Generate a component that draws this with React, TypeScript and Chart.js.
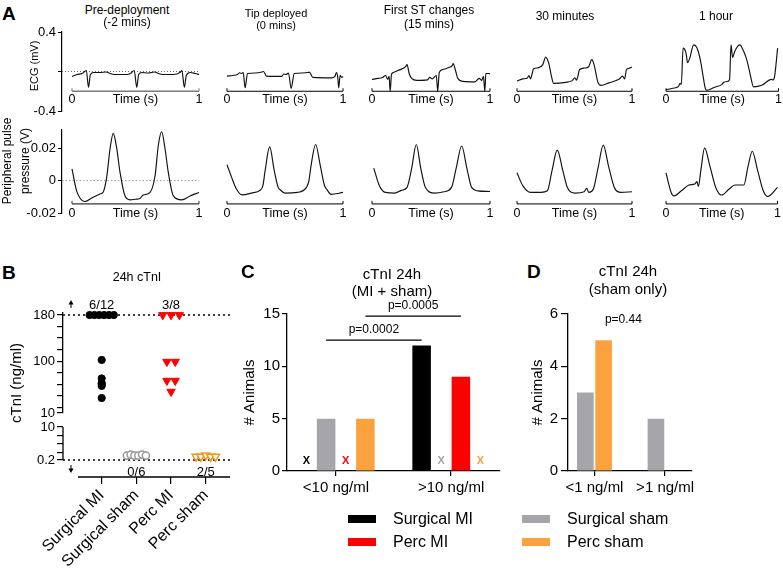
import React, { useEffect, useRef } from 'react';
import { Chart, registerables } from 'chart.js';

Chart.register(...registerables);

const FONT = '"Liberation Sans", Arial, Helvetica, sans-serif';
Chart.defaults.font.family = FONT;
Chart.defaults.color = '#000';
Chart.defaults.plugins.legend.display = false;
Chart.defaults.plugins.tooltip.enabled = false;

// ---------------- Panel A data (time in s, ECG in mV, pulse in V) ----------------
const ECG_PRE_T = [0, 0.04, 0.08, 0.10, 0.113, 0.13, 0.145, 0.17, 0.22, 0.27, 0.30, 0.33, 0.43, 0.46, 0.49, 0.51, 0.525, 0.55, 0.60, 0.65, 0.68, 0.71, 0.80, 0.85, 0.865, 0.885, 0.90, 0.93, 0.97, 1.0];
const ECG_PRE_V = [-0.05, -0.03, -0.02, 0.0, 0.01, -0.16, -0.03, -0.01, -0.01, -0.005, -0.02, -0.03, -0.03, -0.02, 0.01, -0.16, -0.03, -0.01, -0.015, -0.005, -0.02, -0.03, -0.03, -0.01, 0.01, -0.16, -0.04, -0.01, -0.02, -0.03];

const ECG_TIP_T = [0, 0.05, 0.09, 0.11, 0.125, 0.14, 0.156, 0.177, 0.25, 0.30, 0.315, 0.34, 0.47, 0.49, 0.51, 0.53, 0.553, 0.58, 0.65, 0.70, 0.71, 0.74, 0.90, 0.93, 0.944, 0.955, 0.963, 0.975, 0.99, 1.0];
const ECG_TIP_V = [-0.047, -0.04, -0.03, -0.013, -0.02, -0.01, -0.165, -0.02, -0.015, -0.005, 0.0, -0.047, -0.05, -0.025, -0.03, -0.015, -0.17, -0.02, -0.015, -0.01, -0.007, -0.06, -0.065, -0.05, -0.01, -0.06, -0.165, -0.04, -0.06, -0.05];

const ECG_ST_T = [0, 0.05, 0.09, 0.115, 0.133, 0.145, 0.154, 0.165, 0.18, 0.22, 0.26, 0.285, 0.297, 0.315, 0.336, 0.38, 0.47, 0.49, 0.51, 0.545, 0.557, 0.57, 0.60, 0.65, 0.68, 0.6875, 0.71, 0.727, 0.77, 0.87, 0.909, 0.93, 0.945, 0.956, 0.965, 0.99, 1.0];
const ECG_ST_V = [-0.08, -0.07, -0.06, -0.04, -0.08, -0.05, -0.2, -0.03, -0.01, 0.01, 0.03, 0.05, 0.07, -0.02, -0.07, -0.09, -0.085, -0.06, -0.075, -0.04, -0.2, -0.01, 0.02, 0.04, 0.06, 0.08, 0.0, -0.07, -0.10, -0.105, -0.07, -0.09, -0.05, -0.2, -0.02, -0.02, -0.025];

const ECG_30_T = [0, 0.05, 0.09, 0.104, 0.117, 0.13, 0.144, 0.184, 0.224, 0.25, 0.265, 0.277, 0.30, 0.317, 0.424, 0.477, 0.504, 0.517, 0.53, 0.544, 0.59, 0.624, 0.65, 0.67, 0.704, 0.73, 0.80, 0.89, 0.917, 0.936, 0.952, 0.97, 1.0];
const ECG_30_V = [-0.097, -0.075, -0.065, -0.04, -0.075, -0.03, 0.027, 0.037, 0.07, 0.147, 0.12, 0.08, -0.05, -0.12, -0.11, -0.095, -0.063, -0.087, -0.047, 0.02, 0.035, 0.05, 0.12, 0.07, -0.11, -0.14, -0.115, -0.075, -0.047, -0.075, 0.02, 0.03, 0.045];

const ECG_1H_T = [0, 0.06, 0.112, 0.125, 0.136, 0.152, 0.178, 0.192, 0.21, 0.246, 0.27, 0.29, 0.31, 0.33, 0.352, 0.366, 0.43, 0.498, 0.512, 0.55, 0.565, 0.578, 0.592, 0.61, 0.64, 0.658, 0.68, 0.712, 0.735, 0.752, 0.778, 0.85, 0.938, 0.952, 0.965, 0.992];
const ECG_1H_V = [-0.185, -0.17, -0.15, -0.12, -0.13, 0.237, 0.187, 0.09, 0.13, 0.27, 0.25, 0.19, 0.09, -0.05, -0.18, -0.19, -0.16, -0.13, -0.11, -0.10, -0.08, 0.27, 0.14, 0.2, 0.26, 0.27, 0.23, 0.14, 0.04, -0.05, -0.155, -0.14, -0.08, -0.085, -0.05, 0.237];

const PULSE_PRE_T = [0, 0.035, 0.06, 0.102, 0.15, 0.22, 0.246, 0.273, 0.30, 0.325, 0.352, 0.378, 0.417, 0.457, 0.50, 0.535, 0.561, 0.614, 0.654, 0.68, 0.706, 0.732, 0.758, 0.798, 0.864, 0.929, 1.0];
const PULSE_PRE_V = [0.0073, -0.006, -0.0104, -0.0129, -0.011, -0.0083, -0.007, 0.002, 0.02, 0.0292, 0.02, 0.0052, -0.0094, -0.0119, -0.0115, -0.011, -0.0089, -0.0073, 0.003, 0.022, 0.0302, 0.02, 0.0052, -0.0094, -0.0119, -0.0095, -0.0073];

const PULSE_TIP_T = [0, 0.04, 0.08, 0.13, 0.209, 0.288, 0.31, 0.328, 0.368, 0.407, 0.44, 0.46, 0.5, 0.606, 0.685, 0.705, 0.725, 0.764, 0.804, 0.84, 0.857, 0.897, 1.0];
const PULSE_TIP_V = [0.0098, 0.002, -0.005, -0.0088, -0.0077, -0.0058, -0.003, 0.0058, 0.0208, 0.0063, -0.004, -0.0058, -0.0077, -0.0073, -0.0042, -0.0005, 0.0094, 0.0223, 0.0094, -0.003, -0.005, -0.0085, -0.0073];

const PULSE_ST_T = [0.015, 0.0625, 0.115, 0.193, 0.25, 0.297, 0.336, 0.375, 0.414, 0.453, 0.531, 0.609, 0.674, 0.713, 0.76, 0.805, 0.844, 0.896, 1.0];
const PULSE_ST_V = [0.0077, -0.0031, -0.0073, -0.0077, -0.006, -0.0042, 0.0075, 0.0223, 0.0073, -0.0042, -0.0077, -0.0069, -0.0042, 0.0075, 0.0214, 0.0073, -0.0042, -0.0063, -0.0067];

const PULSE_30_T = [0, 0.05, 0.118, 0.21, 0.264, 0.304, 0.35, 0.398, 0.438, 0.504, 0.584, 0.606, 0.624, 0.664, 0.704, 0.75, 0.798, 0.85, 0.904, 1.0];
const PULSE_30_V = [0.0048, -0.0031, -0.0073, -0.0073, -0.0063, 0.006, 0.0188, 0.0063, -0.0042, -0.0077, -0.0069, -0.0048, -0.0073, -0.0052, 0.0075, 0.0219, 0.0083, -0.0048, -0.0073, -0.0069];

const PULSE_1H_T = [0, 0.046, 0.072, 0.138, 0.206, 0.258, 0.278, 0.29, 0.312, 0.346, 0.392, 0.446, 0.498, 0.566, 0.618, 0.698, 0.736, 0.774, 0.818, 0.872, 0.912, 1.0];
const PULSE_1H_V = [0.0048, -0.0073, -0.0094, -0.0063, -0.0027, -0.0021, -0.0006, -0.0036, 0.006, 0.0202, 0.0094, -0.0042, -0.0089, -0.0052, -0.0027, -0.0027, 0.009, 0.0181, 0.0073, -0.0063, -0.0098, -0.0042];

const A_TITLES = [['Pre-deployment', '(-2 mins)'], ['Tip deployed', '(0 mins)'], ['First ST changes', '(15 mins)'], ['30 minutes'], ['1 hour']];
const ECG_TICKS = [-0.4, 0, 0.4];
const PULSE_TICKS = [-0.02, 0, 0.02];
const TIME_TICKS = [0, 0.5, 1];

// ---------------- Panel B data (cTnI ng/ml) ----------------
const B_CATEGORIES = ['Surgical MI', 'Surgical sham', 'Perc MI', 'Perc sham'];
const B_SURG_MI = [180, 180, 180, 180, 180, 180, 102, 70, 62, 60, 57, 36];
const B_SURG_SHAM = [1.5, 1.8, 1.5, 1.5, 1.8, 1.5];
const B_PERC_MI = [180, 180, 180, 99, 99, 66, 66, 47];
const B_PERC_SHAM = [1.2, 1.2, 1.6, 1.2, 1.2];
const B_FRACTIONS = ['6/12', '0/6', '3/8', '2/5'];
const B_UPPER_TICKS = [10, 20, 40, 60, 80, 100, 120, 140, 160, 180];
const B_UPPER_LABELS = [10, 100, 180];
const B_LOWER_TICKS = [0.2, 2.5, 5, 7.5, 10];
const B_LOWER_LABELS = [0.2, 10];
const B_LIMIT_HIGH = 180;
const B_LIMIT_LOW = 0.2;

// ---------------- Panel C / D data (# animals) ----------------
const C_CATEGORIES = ['<10 ng/ml', '>10 ng/ml'];
const C_SURG_MI = [0, 12];
const C_SURG_SHAM = [5, 0];
const C_PERC_MI = [0, 9];
const C_PERC_SHAM = [5, 0];
const C_Y_TICKS = [0, 5, 10, 15];
const C_P_VALUES = ['p=0.0002', 'p=0.0005'];

const D_CATEGORIES = ['<1 ng/ml', '>1 ng/ml'];
const D_SURG_SHAM = [3, 2];
const D_PERC_SHAM = [5, 0];
const D_Y_TICKS = [0, 2, 4, 6];
const D_P_VALUE = 'p=0.44';

const SERIES = ['Surgical MI', 'Surgical sham', 'Perc MI', 'Perc sham'];
const COLORS = { surgMI: '#000000', surgSham: '#a5a5aa', percMI: '#ff0000', percSham: '#fba23f' };

// ---------------- helpers ----------------
function annot(items: any[]) {
  const draw = (chart: any, under: boolean) => {
    const ctx = chart.ctx;
    const ca = chart.chartArea;
    const xs = chart.scales.x;
    const ys = chart.scales.y;
    const px = (v: any) => (v === 'left' ? ca.left : v === 'right' ? ca.right : xs.getPixelForValue(v));
    const py = (v: any) => (v === 'top' ? ca.top : v === 'bottom' ? ca.bottom : ys.getPixelForValue(v));
    const barX = (d: number, i: number) => chart.getDatasetMeta(d).data[i].x;
    for (const it of items) {
      if (!!it.under !== under) continue;
      ctx.save();
      if (it.type === 'line') {
        ctx.strokeStyle = it.color || '#000';
        ctx.lineWidth = it.width || 1;
        ctx.setLineDash(it.dash || []);
        ctx.beginPath();
        ctx.moveTo(px(it.x0) + (it.dx0 || 0), py(it.y0) + (it.dy0 || 0));
        ctx.lineTo(px(it.x1) + (it.dx1 || 0), py(it.y1) + (it.dy1 || 0));
        ctx.stroke();
      } else if (it.type === 'text') {
        ctx.fillStyle = it.color || '#000';
        ctx.font = it.font;
        ctx.textAlign = 'center';
        ctx.textBaseline = 'middle';
        ctx.fillText(it.text, px(it.x) + (it.dx || 0), py(it.y) + (it.dy || 0));
      } else if (it.type === 'arrow') {
        const x = px(it.x);
        const y0 = py(it.y) + it.dy0;
        const y1 = py(it.y) + it.dy1;
        const dir = Math.sign(y1 - y0);
        ctx.strokeStyle = '#000';
        ctx.fillStyle = '#000';
        ctx.lineWidth = 1;
        ctx.beginPath();
        ctx.moveTo(x, y0);
        ctx.lineTo(x, y1 - dir * 3);
        ctx.stroke();
        ctx.beginPath();
        ctx.moveTo(x, y1);
        ctx.lineTo(x - 2.5, y1 - dir * 4.5);
        ctx.lineTo(x + 2.5, y1 - dir * 4.5);
        ctx.closePath();
        ctx.fill();
      } else if (it.type === 'zeroX') {
        chart.data.datasets.forEach((ds: any, d: number) => {
          ds.data.forEach((p: any, i: number) => {
            if (p.y === 0) {
              ctx.fillStyle = ds.backgroundColor;
              ctx.font = it.font;
              ctx.textAlign = 'center';
              ctx.textBaseline = 'middle';
              ctx.fillText('X', barX(d, i), py(0) + it.dy);
            }
          });
        });
      } else if (it.type === 'sig') {
        const x0 = barX(it.from[0], it.from[1]);
        const x1 = barX(it.to[0], it.to[1]);
        const y = py(it.y);
        ctx.strokeStyle = '#000';
        ctx.lineWidth = 1.2;
        ctx.beginPath();
        ctx.moveTo(x0, y);
        ctx.lineTo(x1, y);
        ctx.stroke();
        ctx.fillStyle = '#000';
        ctx.font = it.font;
        ctx.textAlign = 'center';
        ctx.textBaseline = 'middle';
        ctx.fillText(it.text, (x0 + x1) / 2, y + it.dy);
      }
      ctx.restore();
    }
  };
  return {
    id: 'annot',
    beforeDatasetsDraw: (c: any) => draw(c, true),
    afterDatasetsDraw: (c: any) => draw(c, false),
  };
}

const tickList = (vals: number[]) => (s: any) => {
  s.ticks = vals.map((value) => ({ value }));
};

// panel A layout (chart-area extents in page px; x0/x1 = pixel of t=0 / t=1)
const A_COLS = [
  { l: 62, r: 200, x0: 72, x1: 199 },
  { l: 217, r: 343, x0: 217, x1: 343 },
  { l: 362, r: 490, x0: 362, x1: 490 },
  { l: 507, r: 632, x0: 507, x1: 632 },
  { l: 656, r: 781, x0: 656, x1: 781 },
];
const ECG_ROW = { top: 32, bottom: 111, yMin: -0.4, yMax: 0.4, axisY: -0.2, ticks: ECG_TICKS, xPad: 1,
  fmt: (v: number) => (v === 0 ? '' : String(v)), firstAxis: '#7a7a7a', firstAxisW: 1.6,
  dotted: { x1: 'right', color: '#666', dash: [1, 2] } };
const PULSE_ROW = { top: 130, bottom: 213, yMin: -0.02, yMax: 0.03125, axisY: -0.0144, ticks: PULSE_TICKS, xPad: 2,
  fmt: (v: number) => String(v), firstAxis: '#333', firstAxisW: 1.3,
  dotted: { x1: 1, color: '#9a9a9a', dash: [1.5, 2] } };

function traceSpec(ci: number, row: any, t: number[], v: number[]) {
  const c = A_COLS[ci];
  const first = ci === 0;
  const ml = first ? 44 : 10;
  const mr = ci === 4 ? 2 : 10;
  const mt = 12;
  const mb = 18;
  const span = c.x1 - c.x0;
  const xMin = (c.l - c.x0) / span;
  const xMax = 1 + (c.r - c.x1) / span;
  const axColor = first ? row.firstAxis : '#000';
  const items: any[] = [];
  if (first) items.push({ type: 'line', under: true, x0: 'left', x1: row.dotted.x1, y0: 0, y1: 0, color: row.dotted.color, width: 1, dash: row.dotted.dash });
  items.push({ type: 'line', x0: 0, x1: 1, y0: row.axisY, y1: row.axisY, color: axColor, width: first ? row.firstAxisW : 1 });
  items.push({ type: 'line', x0: 0, x1: 0, y0: row.axisY, y1: row.axisY, dy1: -3, color: axColor, width: 1 });
  items.push({ type: 'line', x0: 1, x1: 1, y0: row.axisY, y1: row.axisY, dy1: -3, color: axColor, width: 1 });
  return {
    x: c.l - ml,
    y: row.top - mt,
    w: c.r - c.l + ml + mr,
    h: row.bottom - row.top + mt + mb,
    make: () => ({
      type: 'line',
      data: {
        datasets: [{
          data: t.map((tt, i) => ({ x: tt, y: v[i] })),
          borderColor: '#111',
          borderWidth: 1.15,
          pointRadius: 0,
          fill: false,
          cubicInterpolationMode: 'monotone',
          clip: 4,
        }],
      },
      options: {
        responsive: false,
        animation: false,
        events: [],
        layout: { padding: { left: first ? 0 : ml, right: mr, top: mt, bottom: mb } },
        scales: {
          x: {
            type: 'linear', min: xMin, max: xMax, position: { y: row.axisY },
            border: { display: false }, grid: { display: false, drawTicks: false },
            afterBuildTicks: tickList(TIME_TICKS),
            ticks: { autoSkip: false, maxRotation: 0, minRotation: 0, padding: row.xPad, font: { size: 12.5 },
              callback: (val: number) => (val === 0 ? '0' : val === 1 ? '1' : 'Time (s)') },
          },
          y: {
            type: 'linear', display: first, min: row.yMin, max: row.yMax,
            afterFit: (s: any) => { s.width = ml; },
            afterBuildTicks: tickList(row.ticks),
            ticks: { autoSkip: false, font: { size: 13 }, padding: 2, callback: row.fmt },
            grid: { drawOnChartArea: false, drawTicks: true, tickLength: 4, color: '#000', lineWidth: 1 },
            border: { display: true, color: '#000', width: 1.2 },
          },
        },
      },
      plugins: [annot(items)],
    }),
  };
}

const ECG_SERIES = [[ECG_PRE_T, ECG_PRE_V], [ECG_TIP_T, ECG_TIP_V], [ECG_ST_T, ECG_ST_V], [ECG_30_T, ECG_30_V], [ECG_1H_T, ECG_1H_V]];
const PULSE_SERIES = [[PULSE_PRE_T, PULSE_PRE_V], [PULSE_TIP_T, PULSE_TIP_V], [PULSE_ST_T, PULSE_ST_V], [PULSE_30_T, PULSE_30_V], [PULSE_1H_T, PULSE_1H_V]];

// ---------------- Panel B ----------------
function spread(vals: number[], cx: number, step: number, groupAll: boolean) {
  const groups: Record<string, number[]> = {};
  vals.forEach((v, i) => {
    const k = groupAll ? 'all' : String(v);
    (groups[k] = groups[k] || []).push(i);
  });
  const out = vals.map((v) => ({ x: cx, y: v }));
  Object.values(groups).forEach((idx) => {
    idx.forEach((i, k) => { out[i].x = cx + (k - (idx.length - 1) / 2) * step; });
  });
  return out;
}

const B_XMIN = -1.116;
const B_XMAX = 3.70;
const B_POINTS = [
  { pts: spread(B_SURG_MI, 0, 0.14, false), style: 'circle', rot: 0, r: 3.6, fill: COLORS.surgMI, stroke: COLORS.surgMI, bw: 1 },
  { pts: spread(B_SURG_SHAM, 1, 0.11, true), style: 'circle', rot: 0, r: 3.6, fill: '#ffffff', stroke: '#9a9a9a', bw: 1.5 },
  { pts: spread(B_PERC_MI, 2, 0.24, false), style: 'triangle', rot: 180, r: 4.8, fill: COLORS.percMI, stroke: COLORS.percMI, bw: 1 },
  { pts: spread(B_PERC_SHAM, 3, 0.14, true), style: 'triangle', rot: 180, r: 4.6, fill: '#ffffff', stroke: '#f7941d', bw: 1.5 },
];

function bDatasets(upper: boolean) {
  return B_POINTS.map((s, i) => ({
    label: B_CATEGORIES[i],
    data: s.pts.filter((p) => (upper ? p.y >= 10 : p.y < 10)),
    pointStyle: s.style,
    pointRotation: s.rot,
    pointRadius: s.r,
    pointBackgroundColor: s.fill,
    pointBorderColor: s.stroke,
    pointBorderWidth: s.bw,
    showLine: false,
    clip: false,
  }));
}

const B_UPPER = {
  x: 0, y: 295, w: 244, h: 128,
  make: () => ({
    type: 'scatter',
    data: { datasets: bDatasets(true) },
    options: {
      responsive: false, animation: false, events: [],
      layout: { padding: { left: 0, top: 18, right: 14, bottom: 10 } },
      scales: {
        x: { type: 'linear', display: false, min: B_XMIN, max: B_XMAX },
        y: {
          type: 'linear', min: 10, max: 183.5,
          afterFit: (s: any) => { s.width = 63; },
          afterBuildTicks: tickList(B_UPPER_TICKS),
          ticks: { autoSkip: false, font: { size: 13 }, padding: 2, callback: (v: number) => (B_UPPER_LABELS.includes(v) ? String(v) : '') },
          grid: { drawOnChartArea: false, drawTicks: true, tickLength: 6, color: '#000', lineWidth: 1.2 },
          border: { display: true, color: '#000', width: 1.3 },
        },
      },
    },
    plugins: [annot([
      { type: 'line', under: true, x0: 'left', x1: 'right', y0: B_LIMIT_HIGH, y1: B_LIMIT_HIGH, color: '#000', width: 1.5, dash: [2, 3] },
      { type: 'text', x: 0, y: B_LIMIT_HIGH, dy: -10, text: B_FRACTIONS[0], font: `13px ${FONT}` },
      { type: 'text', x: 2, y: B_LIMIT_HIGH, dy: -10, text: B_FRACTIONS[2], font: `13px ${FONT}` },
      { type: 'arrow', x: -0.885, y: 'top', dy0: -5, dy1: -13 },
    ])],
  }),
};

const B_LOWER = {
  x: 0, y: 413, w: 244, h: 156,
  make: () => ({
    type: 'scatter',
    data: { datasets: bDatasets(false) },
    options: {
      responsive: false, animation: false, events: [],
      layout: { padding: { left: 0, top: 14, right: 14, bottom: 0 } },
      scales: {
        x: {
          type: 'linear', position: 'bottom', min: B_XMIN, max: B_XMAX, offset: false,
          afterFit: (s: any) => { s.height = 92; },
          afterBuildTicks: tickList([0, 1, 2, 3]),
          ticks: { font: { size: 16 }, minRotation: 45, maxRotation: 45, autoSkip: false, padding: 2,
            callback: (v: number) => B_CATEGORIES[v] },
          grid: { drawOnChartArea: false, drawTicks: true, tickLength: 7, color: '#000', lineWidth: 1.2 },
          border: { display: false },
        },
        y: {
          type: 'linear', min: -4.85, max: 10,
          afterFit: (s: any) => { s.width = 63; },
          afterBuildTicks: tickList(B_LOWER_TICKS),
          ticks: { autoSkip: false, font: { size: 13 }, padding: 2, callback: (v: number) => (B_LOWER_LABELS.includes(v) ? String(v) : '') },
          grid: { drawOnChartArea: false, drawTicks: true, tickLength: 6, color: '#000', lineWidth: 1.2 },
          border: { display: false },
        },
      },
    },
    plugins: [annot([
      { type: 'line', under: true, x0: 'left', x1: 'right', y0: B_LIMIT_LOW, y1: B_LIMIT_LOW, color: '#000', width: 1.5, dash: [2, 3] },
      { type: 'line', x0: 'left', x1: 'left', y0: 10, y1: B_LIMIT_LOW, color: '#000', width: 1.3 },
      { type: 'line', x0: -0.684, x1: 'right', y0: 'bottom', y1: 'bottom', color: '#000', width: 1.3 },
      { type: 'text', x: 1, y: B_LIMIT_LOW, dy: 12, text: B_FRACTIONS[1], font: `13px ${FONT}` },
      { type: 'text', x: 3, y: B_LIMIT_LOW, dy: 12, text: B_FRACTIONS[3], font: `13px ${FONT}` },
      { type: 'arrow', x: -0.885, y: B_LIMIT_LOW, dy0: 5, dy1: 13 },
    ])],
  }),
};

// ---------------- Panels C and D ----------------
function barScales(o: any) {
  return {
    x: {
      type: 'linear', position: 'bottom', min: o.xMin, max: o.xMax, offset: false,
      afterFit: (s: any) => { s.height = o.xH; },
      afterBuildTicks: tickList([0, 1]),
      ticks: { font: { size: 15 }, padding: 3, maxRotation: 0, minRotation: 0, autoSkip: false, callback: (v: number) => o.cats[v] },
      grid: { drawOnChartArea: false, drawTicks: true, tickLength: 5, color: '#000', lineWidth: 1.2, offset: false },
      border: { display: true, color: '#000', width: 1.3 },
    },
    y: {
      type: 'linear', min: o.yMin, max: o.yMax,
      afterFit: (s: any) => { s.width = o.yW; },
      afterBuildTicks: tickList(o.yTicks),
      ticks: { autoSkip: false, font: { size: 15 }, padding: o.yPad, callback: (v: number) => String(v) },
      grid: { drawOnChartArea: false, drawTicks: true, tickLength: o.yTl, color: '#000', lineWidth: 1.2 },
      border: { display: true, color: '#000', width: 1.3 },
      title: { display: true, text: '# Animals', font: { size: 15 }, padding: 0 },
    },
  };
}

const barDs = (label: string, vals: number[], color: string, cp: number, bp: number) => ({
  label,
  data: vals.map((y, i) => ({ x: i, y })),
  backgroundColor: color,
  borderWidth: 0,
  categoryPercentage: cp,
  barPercentage: bp,
});

const C_SPEC = {
  x: 241, y: 296, w: 273, h: 207,
  make: () => ({
    type: 'bar',
    data: {
      datasets: [
        barDs(SERIES[0], C_SURG_MI, COLORS.surgMI, 0.682, 0.944),
        barDs(SERIES[1], C_SURG_SHAM, COLORS.surgSham, 0.682, 0.944),
        barDs(SERIES[2], C_PERC_MI, COLORS.percMI, 0.682, 0.944),
        barDs(SERIES[3], C_PERC_SHAM, COLORS.percSham, 0.682, 0.944),
      ],
    },
    options: {
      responsive: false, animation: false, events: [],
      layout: { padding: { left: 0, top: 18, right: 14, bottom: 0 } },
      scales: barScales({ xMin: -0.425, xMax: 1.425, xH: 32, cats: C_CATEGORIES, yMin: 0, yMax: 15, yW: 46, yTicks: C_Y_TICKS, yPad: 2, yTl: 5 }),
    },
    plugins: [annot([
      { type: 'zeroX', font: `bold 11px ${FONT}`, dy: -10 },
      { type: 'sig', from: [1, 0], to: [0, 1], y: 12.5, text: C_P_VALUES[0], font: `12px ${FONT}`, dy: -10 },
      { type: 'sig', from: [3, 0], to: [2, 1], y: 14.8, text: C_P_VALUES[1], font: `12px ${FONT}`, dy: -10 },
    ])],
  }),
};

const D_SPEC = {
  x: 529, y: 296, w: 181, h: 207,
  make: () => ({
    type: 'bar',
    data: {
      datasets: [
        barDs(SERIES[1], D_SURG_SHAM, COLORS.surgSham, 0.518, 0.91),
        barDs(SERIES[3], D_PERC_SHAM, COLORS.percSham, 0.518, 0.91),
      ],
    },
    options: {
      responsive: false, animation: false, events: [],
      layout: { padding: { left: 0, top: 18, right: 18, bottom: 0 } },
      scales: barScales({ xMin: -0.375, xMax: 1.381, xH: 32, cats: D_CATEGORIES, yMin: 0, yMax: 6, yW: 39, yTicks: D_Y_TICKS, yPad: 3, yTl: 7 }),
    },
    plugins: [annot([
      { type: 'text', x: 0.41, y: 5.8, text: D_P_VALUE, font: `12px ${FONT}` },
    ])],
  }),
};

const SPECS: any[] = [
  ...ECG_SERIES.map((s, i) => traceSpec(i, ECG_ROW, s[0], s[1])),
  ...PULSE_SERIES.map((s, i) => traceSpec(i, PULSE_ROW, s[0], s[1])),
  B_UPPER, B_LOWER, C_SPEC, D_SPEC,
];

function ChartCanvas({ spec }: { spec: any }) {
  const ref = useRef<HTMLCanvasElement>(null);
  useEffect(() => {
    const chart = new Chart(ref.current as HTMLCanvasElement, spec.make());
    return () => chart.destroy();
  }, [spec]);
  return (
    <canvas
      ref={ref}
      width={spec.w}
      height={spec.h}
      style={{ position: 'absolute', left: spec.x, top: spec.y, width: spec.w, height: spec.h }}
    />
  );
}

function Label(p: { x: number; y: number; size: number; bold?: boolean; rot?: boolean; left?: boolean; children: any }) {
  const tx = p.left ? '0' : '-50%';
  return (
    <div
      style={{
        position: 'absolute', left: p.x, top: p.y, fontSize: p.size, fontWeight: p.bold ? 700 : 400,
        lineHeight: 1, whiteSpace: 'nowrap', color: '#000',
        transform: `translate(${tx}, -50%)${p.rot ? ' rotate(-90deg)' : ''}`,
      }}
    >
      {p.children}
    </div>
  );
}

const A_TITLE_POS = [
  { x: 127, y: [10, 22], s: 12 },
  { x: 276, y: [13, 25], s: 11 },
  { x: 429, y: [10, 24], s: 12 },
  { x: 565, y: [16], s: 12 },
  { x: 716, y: [16], s: 12 },
];

const LEGEND = [
  { label: SERIES[0], color: COLORS.surgMI, x: 348, y: 519 },
  { label: SERIES[1], color: COLORS.surgSham, x: 522, y: 519 },
  { label: SERIES[2], color: COLORS.percMI, x: 348, y: 542 },
  { label: SERIES[3], color: COLORS.percSham, x: 522, y: 542 },
];

export default function App() {
  return (
    <div style={{ position: 'fixed', left: 0, top: 0, width: 783, height: 569, background: '#fff', overflow: 'hidden', fontFamily: FONT }}>
      {SPECS.map((s, i) => <ChartCanvas key={i} spec={s} />)}

      <Label x={2} y={13} size={19} bold left>A</Label>
      <Label x={2} y={272} size={19} bold left>B</Label>
      <Label x={241} y={271} size={19} bold left>C</Label>
      <Label x={527} y={271} size={19} bold left>D</Label>

      {A_TITLES.map((lines, i) =>
        lines.map((t, j) => (
          <Label key={`${i}-${j}`} x={A_TITLE_POS[i].x} y={A_TITLE_POS[i].y[j]} size={A_TITLE_POS[i].s}>{t}</Label>
        ))
      )}
      <Label x={34} y={66} size={11} rot>ECG (mV)</Label>
      <Label x={7} y={161} size={12} rot>Peripheral pulse</Label>
      <Label x={25} y={161} size={12} rot>pressure (V)</Label>

      <Label x={137} y={277} size={12.5}>24h cTnI</Label>
      <Label x={15} y={383} size={15} rot>cTnI (ng/ml)</Label>

      <Label x={392} y={273} size={15}>cTnI 24h</Label>
      <Label x={392} y={290} size={15}>(MI + sham)</Label>
      <Label x={628} y={270} size={15}>cTnI 24h</Label>
      <Label x={628} y={288} size={15}>(sham only)</Label>

      {LEGEND.map((l) => (
        <React.Fragment key={l.label}>
          <div style={{ position: 'absolute', left: l.x, top: l.y - 4, width: 28, height: 8, background: l.color }} />
          <Label x={l.x + 45} y={l.y} size={16} left>{l.label}</Label>
        </React.Fragment>
      ))}
    </div>
  );
}
